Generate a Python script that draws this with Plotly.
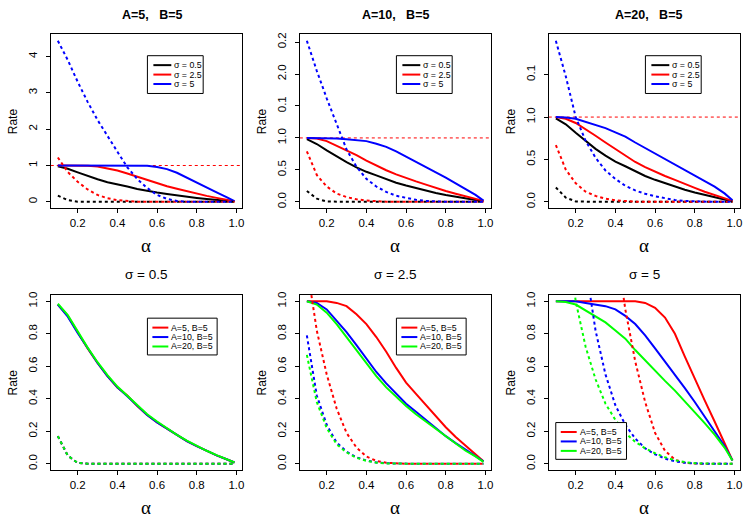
import plotly.graph_objects as go

W, H = 751, 517

alpha = [0.10, 0.15, 0.20, 0.25, 0.30, 0.35, 0.40, 0.45, 0.50, 0.55,
         0.60, 0.65, 0.70, 0.75, 0.80, 0.85, 0.90, 0.95, 0.99]

# solid curves (rate), one list per (A, sigma)
rate_a5_s05 = [0.98, 0.91, 0.81, 0.71, 0.62, 0.54, 0.47, 0.42, 0.355, 0.30,
               0.255, 0.215, 0.175, 0.14, 0.108, 0.078, 0.052, 0.028, 0.008]
rate_a10_s05 = [0.98, 0.905, 0.805, 0.71, 0.62, 0.54, 0.47, 0.415, 0.355, 0.30,
                0.255, 0.215, 0.175, 0.14, 0.108, 0.078, 0.052, 0.028, 0.008]
rate_a20_s05 = [0.985, 0.915, 0.815, 0.715, 0.625, 0.545, 0.475, 0.42, 0.36, 0.305,
                0.26, 0.218, 0.178, 0.142, 0.11, 0.08, 0.053, 0.028, 0.008]
rate_a5_s25 = [1.0, 1.0, 1.0, 0.99, 0.97, 0.92, 0.86, 0.78, 0.69, 0.59,
               0.50, 0.43, 0.36, 0.29, 0.225, 0.165, 0.11, 0.06, 0.015]
rate_a10_s25 = [1.0, 0.99, 0.95, 0.88, 0.81, 0.73, 0.645, 0.565, 0.495, 0.43,
                0.37, 0.32, 0.27, 0.215, 0.17, 0.127, 0.086, 0.047, 0.015]
rate_a20_s25 = [1.0, 0.98, 0.93, 0.86, 0.78, 0.70, 0.62, 0.54, 0.47, 0.41,
                0.355, 0.305, 0.26, 0.21, 0.165, 0.12, 0.08, 0.045, 0.012]
rate_a5_s5 = [1.0, 1.0, 1.0, 1.0, 1.0, 1.0, 1.0, 1.0, 1.0, 0.99,
              0.96, 0.90, 0.80, 0.66, 0.52, 0.39, 0.26, 0.13, 0.02]
rate_a10_s5 = [1.0, 1.0, 1.0, 0.99, 0.98, 0.97, 0.95, 0.91, 0.86, 0.79,
               0.71, 0.63, 0.55, 0.465, 0.38, 0.29, 0.20, 0.11, 0.02]
rate_a20_s5 = [1.0, 0.995, 0.98, 0.945, 0.91, 0.87, 0.82, 0.77, 0.70, 0.635,
               0.57, 0.51, 0.45, 0.385, 0.32, 0.25, 0.18, 0.10, 0.02]

# dotted curves
dot_a5_s05 = [0.17, 0.05, 0.005, 0, 0, 0, 0, 0, 0, 0, 0, 0, 0, 0, 0, 0, 0, 0, 0]
dot_a10_s05 = [0.17, 0.05, 0.005, 0, 0, 0, 0, 0, 0, 0, 0, 0, 0, 0, 0, 0, 0, 0, 0]
dot_a20_s05 = [0.17, 0.05, 0.005, 0, 0, 0, 0, 0, 0, 0, 0, 0, 0, 0, 0, 0, 0, 0, 0]
dot_a5_s25 = [1.22, 0.82, 0.55, 0.34, 0.19, 0.10, 0.045, 0.018, 0.006, 0.001,
              0, 0, 0, 0, 0, 0, 0, 0, 0]
dot_a10_s25 = [0.79, 0.42, 0.24, 0.13, 0.075, 0.04, 0.02, 0.008, 0.003, 0.001,
               0, 0, 0, 0, 0, 0, 0, 0, 0]
dot_a20_s25 = [0.67, 0.38, 0.22, 0.12, 0.07, 0.037, 0.018, 0.007, 0.002, 0,
               0, 0, 0, 0, 0, 0, 0, 0, 0]
dot_a5_s5 = [4.43, 3.9, 3.3, 2.75, 2.25, 1.8, 1.38, 0.95, 0.63, 0.38,
             0.19, 0.08, 0.025, 0.006, 0.001, 0, 0, 0, 0]
dot_a10_s5 = [2.52, 2.05, 1.62, 1.22, 0.82, 0.55, 0.36, 0.24, 0.155, 0.095,
              0.058, 0.032, 0.015, 0.006, 0.002, 0, 0, 0, 0]
dot_a20_s5 = [1.9, 1.48, 1.0, 0.72, 0.52, 0.37, 0.27, 0.19, 0.135, 0.095,
              0.065, 0.04, 0.022, 0.01, 0.004, 0.001, 0, 0, 0]

A_values = [5, 10, 20]
sigma_values = [0.5, 2.5, 5]
solid = {(5, 0.5): rate_a5_s05, (10, 0.5): rate_a10_s05, (20, 0.5): rate_a20_s05,
         (5, 2.5): rate_a5_s25, (10, 2.5): rate_a10_s25, (20, 2.5): rate_a20_s25,
         (5, 5): rate_a5_s5, (10, 5): rate_a10_s5, (20, 5): rate_a20_s5}
dotted = {(5, 0.5): dot_a5_s05, (10, 0.5): dot_a10_s05, (20, 0.5): dot_a20_s05,
          (5, 2.5): dot_a5_s25, (10, 2.5): dot_a10_s25, (20, 2.5): dot_a20_s25,
          (5, 5): dot_a5_s5, (10, 5): dot_a10_s5, (20, 5): dot_a20_s5}

top_titles = ["A=5,\u00a0\u00a0\u00a0B=5", "A=10,\u00a0\u00a0\u00a0B=5", "A=20,\u00a0\u00a0\u00a0B=5"]
bottom_titles = ["σ = 0.5", "σ = 2.5", "σ = 5"]
sigma_labels = ["σ = 0.5", "σ = 2.5", "σ = 5"]
ab_labels = ["A=5, B=5", "A=10, B=5", "A=20, B=5"]
x_ticks = [0.2, 0.4, 0.6, 0.8, 1.0]
x_ticktext = ["0.2", "0.4", "0.6", "0.8", "1.0"]
top_ytickvals = [[0, 1, 2, 3, 4], [0, 0.5, 1, 1.5, 2, 2.5], [0, 0.5, 1, 1.5]]
top_yticktext = [["0", "1", "2", "3", "4"],
                 ["0.0", "0.5", "1.0", "0.1", "2.0", "0.2"],
                 ["0.0", "0.5", "1.0", "0.1"]]
bottom_yticks = [0, 0.2, 0.4, 0.6, 0.8, 1.0]
bottom_yticktext = ["0.0", "0.2", "0.4", "0.6", "0.8", "1.0"]
ref_level = 1.0

SANS = "Liberation Sans, Arial, sans-serif"
SERIF = "Liberation Serif, Times New Roman, serif"
sigma_colors = ["black", "#FF0000", "#0000FF"]
A_colors = ["#FF0000", "#0000FF", "#00FF00"]


def px(x):
    return x / W


def py(y):
    return 1 - y / H


# panel boxes in pixels
rows_px = [(31.5, 206.5), (293.5, 470)]
fig = go.Figure()
layout = dict(width=W, height=H, margin=dict(l=0, r=0, t=0, b=0),
              paper_bgcolor="white", plot_bgcolor="white", showlegend=False)
annotations = []
shapes = []

axis_style = dict(showline=True, mirror=True, linecolor="black", linewidth=1,
                  ticks="outside", ticklen=4, tickwidth=1, tickcolor="black",
                  showgrid=False, zeroline=False,
                  tickfont=dict(family=SANS, size=11.5, color="black"))

xspan = alpha[-1] - alpha[0]
xrange = [alpha[0] - 0.04 * xspan, alpha[-1] + 0.04 * xspan]
title_x_top = [153, 397, 651]

for r in range(2):
    top, bot = rows_px[r]
    for c in range(3):
        k = r * 3 + c + 1
        xa = "x" if k == 1 else f"x{k}"
        ya = "y" if k == 1 else f"y{k}"
        left, right = 51 + 250 * c, 242.5 + 250 * c

        if r == 0:
            A = A_values[c]
            keys = [(A, s) for s in sigma_values]
            colors = sigma_colors
            labels = sigma_labels
            # horizontal reference line at rate = 1 (abline)
            fig.add_trace(go.Scatter(x=xrange, y=[ref_level, ref_level], mode="lines",
                                     xaxis=xa, yaxis=ya,
                                     line=dict(color="#FF0000", width=1, dash="dot")))
        else:
            s = sigma_values[c]
            keys = [(A, s) for A in A_values]
            colors = A_colors
            labels = ab_labels

        for key, col in zip(keys, colors):
            fig.add_trace(go.Scatter(x=alpha, y=solid[key], mode="lines", xaxis=xa, yaxis=ya,
                                     line=dict(color=col, width=2)))
        for key, col in zip(keys, colors):
            fig.add_trace(go.Scatter(x=alpha, y=dotted[key], mode="lines", xaxis=xa, yaxis=ya,
                                     line=dict(color=col, width=2, dash="dot")))

        if r == 0:
            ymax = max(max(solid[k2] + dotted[k2]) for k2 in keys)
            yrange = [-0.04 * ymax, 1.04 * ymax]
            ytv, ytt = top_ytickvals[c], top_yticktext[c]
        else:
            yrange = [-0.04, 1.04]
            ytv, ytt = bottom_yticks, bottom_yticktext

        layout["xaxis" if k == 1 else f"xaxis{k}"] = dict(
            axis_style, domain=[px(left), px(right)], range=xrange, anchor=ya,
            tickvals=x_ticks, ticktext=x_ticktext)
        layout["yaxis" if k == 1 else f"yaxis{k}"] = dict(
            axis_style, domain=[py(bot), py(top)], range=yrange, anchor=xa,
            tickvals=ytv, ticktext=ytt, tickangle=-90, ticklabelstandoff=4)

        # titles
        if r == 0:
            annotations.append(dict(text=top_titles[c], x=px(title_x_top[c]), y=py(12),
                                    font=dict(family=SANS, size=12.5, color="black", weight="bold")))
        else:
            annotations.append(dict(text=bottom_titles[c], x=px((left + right) / 2), y=py(273),
                                    font=dict(family=SANS, size=13.5, color="black")))
        annotations.append(dict(text="α", x=px((left + right) / 2), y=py(bot + 37),
                                font=dict(family=SERIF, size=19, color="black")))
        annotations.append(dict(text="Rate", x=px(left - 38), y=py((top + bot) / 2), textangle=-90,
                                font=dict(family=SANS, size=12, color="black")))

        # legend box
        if r == 0:
            lx, ly, lw, lh, l0, l1, tx = 148 + 250 * c, 53, 56, 38, 6, 24, 26
        elif c < 2:
            lx, ly, lw, lh, l0, l1, tx = 148 + 250 * c, 317, 70, 37, 5, 21, 23
        else:
            lx, ly, lw, lh, l0, l1, tx = 558, 422, 71, 37, 5, 21, 23
        shapes.append(dict(type="rect", xref="paper", yref="paper",
                           x0=px(lx), x1=px(lx + lw), y0=py(ly + lh), y1=py(ly),
                           line=dict(color="black", width=1), fillcolor="white", layer="above"))
        for i, (col, lab) in enumerate(zip(colors, labels)):
            yy = ly + 9.5 + 9.5 * i
            shapes.append(dict(type="line", xref="paper", yref="paper",
                               x0=px(lx + l0), x1=px(lx + l1), y0=py(yy), y1=py(yy),
                               line=dict(color=col, width=2), layer="above"))
            annotations.append(dict(text=lab, x=px(lx + tx), y=py(yy), xanchor="left",
                                    borderpad=0,
                                    font=dict(family=SANS, size=8.8, color="black")))

for a in annotations:
    a.setdefault("xref", "paper")
    a.setdefault("yref", "paper")
    a.setdefault("showarrow", False)
    a.setdefault("xanchor", "center")
    a.setdefault("yanchor", "middle")

layout["annotations"] = annotations
layout["shapes"] = shapes
fig.update_layout(**layout)
# page body has a default margin; drop it so the figure sits at the window corner
fig.write_html("out.html", config={"displayModeBar": False},
               post_script="document.body.style.margin='0';document.body.style.padding='0';")
